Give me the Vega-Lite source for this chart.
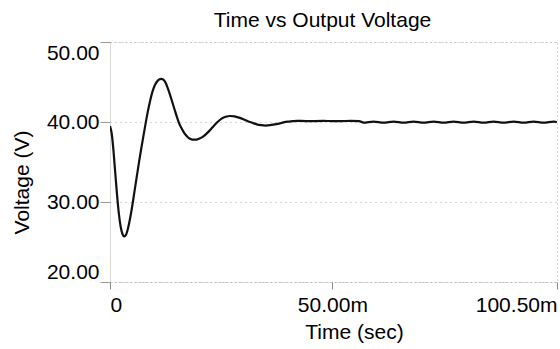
{
  "$schema": "https://vega.github.io/schema/vega-lite/v6.json",
  "width": 447,
  "height": 240,
  "autosize": {"type": "none"},
  "padding": {"left": 110, "top": 42, "right": 3, "bottom": 67},
  "background": "white",
  "config": {
    "font": "Liberation Sans",
    "view": {"stroke": "#b0b0b0", "strokeDash": [1, 3], "strokeWidth": 1}
  },
  "title": {
    "text": "Time vs Output Voltage",
    "fontSize": 21,
    "fontWeight": "normal",
    "font": "Liberation Sans",
    "color": "#000",
    "frame": "group",
    "anchor": "middle",
    "baseline": "alphabetic",
    "offset": 16,
    "dx": -11,
    "dy": 22
  },
  "data": {
    "values": [
      {"t": 0, "v": 39.5}, {"t": 0.4, "v": 38.5}, {"t": 0.8, "v": 36.3}, {"t": 1.2, "v": 33.5},
      {"t": 1.6, "v": 30.8}, {"t": 2.0, "v": 28.5}, {"t": 2.4, "v": 26.9}, {"t": 2.8, "v": 26.0},
      {"t": 3.2, "v": 25.7}, {"t": 3.6, "v": 25.9}, {"t": 4.0, "v": 26.6}, {"t": 4.5, "v": 27.9},
      {"t": 5.0, "v": 29.5}, {"t": 5.5, "v": 31.3}, {"t": 6.0, "v": 33.1}, {"t": 6.5, "v": 34.9},
      {"t": 7.0, "v": 36.6}, {"t": 7.5, "v": 38.2}, {"t": 8.0, "v": 39.8}, {"t": 8.5, "v": 41.3},
      {"t": 9.0, "v": 42.6}, {"t": 9.5, "v": 43.7}, {"t": 10.0, "v": 44.5}, {"t": 10.5, "v": 45.0},
      {"t": 11.0, "v": 45.3}, {"t": 11.5, "v": 45.4}, {"t": 12.0, "v": 45.3}, {"t": 12.5, "v": 44.9},
      {"t": 13.0, "v": 44.2}, {"t": 13.5, "v": 43.4}, {"t": 14.0, "v": 42.5}, {"t": 14.5, "v": 41.6},
      {"t": 15.0, "v": 40.7}, {"t": 15.5, "v": 39.9}, {"t": 16.0, "v": 39.3}, {"t": 16.5, "v": 38.8},
      {"t": 17.0, "v": 38.4}, {"t": 17.5, "v": 38.1}, {"t": 18.0, "v": 37.9}, {"t": 18.5, "v": 37.8},
      {"t": 19.0, "v": 37.8}, {"t": 19.5, "v": 37.8}, {"t": 20.0, "v": 37.9}, {"t": 21.0, "v": 38.2},
      {"t": 22.0, "v": 38.7}, {"t": 23.0, "v": 39.3}, {"t": 24.0, "v": 39.9}, {"t": 25.0, "v": 40.4},
      {"t": 26.0, "v": 40.65}, {"t": 27.0, "v": 40.75}, {"t": 28.0, "v": 40.7}, {"t": 29.0, "v": 40.55},
      {"t": 30.0, "v": 40.35}, {"t": 31.0, "v": 40.1}, {"t": 32.0, "v": 39.9}, {"t": 33.0, "v": 39.7},
      {"t": 34.0, "v": 39.6}, {"t": 35.0, "v": 39.55}, {"t": 36.0, "v": 39.6}, {"t": 37.0, "v": 39.7},
      {"t": 38.0, "v": 39.8}, {"t": 39.0, "v": 39.95}, {"t": 40.0, "v": 40.05}, {"t": 41.0, "v": 40.1},
      {"t": 42.0, "v": 40.15}, {"t": 44.0, "v": 40.12}, {"t": 46.0, "v": 40.12}, {"t": 48.0, "v": 40.13},
      {"t": 50.0, "v": 40.12}, {"t": 52.0, "v": 40.12}, {"t": 54.0, "v": 40.13}, {"t": 56.0, "v": 40.12},
      {"t": 57.0, "v": 39.92}, {"t": 59.25, "v": 40.05}, {"t": 61.5, "v": 39.92}, {"t": 63.75, "v": 40.05},
      {"t": 66.0, "v": 39.92}, {"t": 68.25, "v": 40.05}, {"t": 70.5, "v": 39.92}, {"t": 72.75, "v": 40.05},
      {"t": 75.0, "v": 39.92}, {"t": 77.25, "v": 40.05}, {"t": 79.5, "v": 39.92}, {"t": 81.75, "v": 40.05},
      {"t": 84.0, "v": 39.92}, {"t": 86.25, "v": 40.05}, {"t": 88.5, "v": 39.92}, {"t": 90.75, "v": 40.05},
      {"t": 93.0, "v": 39.92}, {"t": 95.25, "v": 40.05}, {"t": 97.5, "v": 39.92}, {"t": 99.75, "v": 40.05},
      {"t": 100.5, "v": 40.0}
    ]
  },
  "mark": {"type": "line", "color": "#111111", "strokeWidth": 2.2, "interpolate": "monotone", "clip": true},
  "encoding": {
    "x": {
      "field": "t",
      "type": "quantitative",
      "scale": {"domain": [0, 100.5], "nice": false, "zero": false},
      "axis": {
        "title": "Time (sec)",
        "values": [0, 50, 100.5],
        "labelExpr": "datum.value == 0 ? '0' : format(datum.value, '.2f') + 'm'",
        "labelFlush": true,
        "labelFontSize": 21,
        "labelColor": "#000",
        "labelPadding": 22,
        "labelBaseline": "alphabetic",
        "labelOverlap": false,
        "tickSize": 7,
        "tickColor": "#888",
        "domainColor": "#b0b0b0",
        "domainDash": [1, 3],
        "grid": false,
        "titleFontSize": 21,
        "titleFontWeight": "normal",
        "titleColor": "#000",
        "titleX": 244,
        "titleY": 56,
        "titleBaseline": "alphabetic",
        "titleAnchor": null
      }
    },
    "y": {
      "field": "v",
      "type": "quantitative",
      "scale": {"domain": [20, 50], "nice": false, "zero": false},
      "axis": {
        "title": "Voltage (V)",
        "values": [20, 30, 40, 50],
        "format": ".2f",
        "labelFlush": true,
        "labelFontSize": 21,
        "labelColor": "#000",
        "labelPadding": 1,
        "tickSize": 10,
        "tickColor": "#999",
        "domainColor": "#b0b0b0",
        "domainDash": [1, 3],
        "grid": true,
        "gridColor": "#b0b0b0",
        "gridDash": [1, 4],
        "titleFontSize": 21,
        "titleFontWeight": "normal",
        "titleColor": "#000",
        "titleX": -82,
        "titleY": 140,
        "titleBaseline": "alphabetic",
        "titleAngle": -90
      }
    }
  }
}
